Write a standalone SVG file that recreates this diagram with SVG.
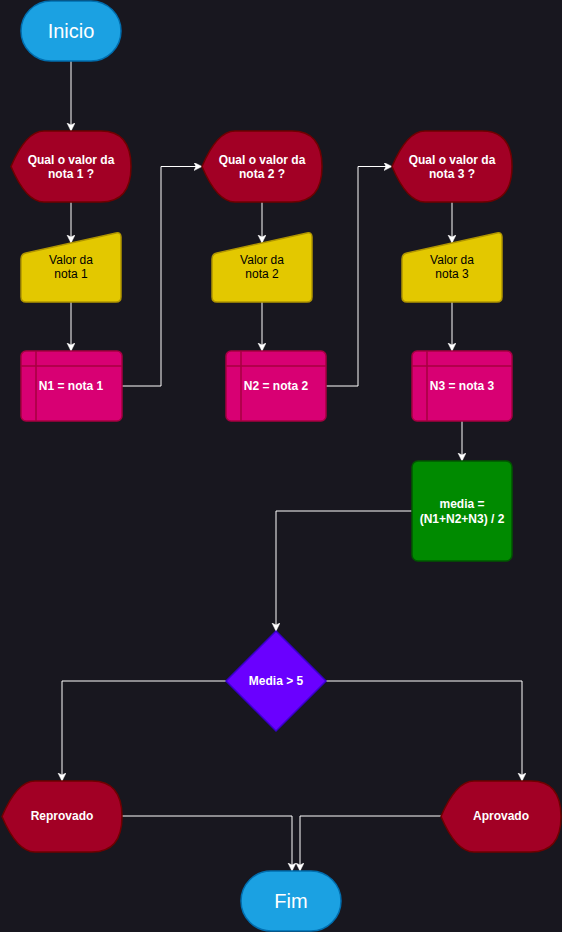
<svg xmlns="http://www.w3.org/2000/svg" width="562" height="932" viewBox="0 0 562 932">
<style>
.term{fill:#1ba1e2;stroke:#006eaf;stroke-width:1.5}
.disp{fill:#a20025;stroke:#6f0000;stroke-width:1.5}
.man{fill:#e3c800;stroke:#b09500;stroke-width:1.5}
.ist{fill:#d80073;stroke:#a50040;stroke-width:1.5}
.istl{fill:none;stroke:#a50040;stroke-width:1.5}
.proc{fill:#008a00;stroke:#005700;stroke-width:1.5}
.dec{fill:#6a00ff;stroke:#3700cc;stroke-width:1.5}
text{font-family:"Liberation Sans",Arial,sans-serif;text-anchor:middle}
.big{font-size:20px;fill:#ffffff}
.b{font-size:12px;font-weight:bold;fill:#ffffff}
.n{font-size:12px;fill:#000000}
.edge{fill:none;stroke:#ffffff;stroke-width:1}
</style>
<defs>
<marker id="arr" markerUnits="userSpaceOnUse" markerWidth="10" markerHeight="10" refX="8" refY="4" orient="auto">
<path d="M0,0 L8,4 L0,8 L2,4 Z" fill="#ffffff" stroke="#ffffff" stroke-width="0.5"/>
</marker>
</defs>
<rect x="0" y="0" width="562" height="932" fill="#18171f"/>

<g id="connectors">
<path class="edge" marker-end="url(#arr)" d="M71,61 L71,131"/>
<path class="edge" marker-end="url(#arr)" d="M71,202 L71,243"/>
<path class="edge" marker-end="url(#arr)" d="M71,302 L71,351"/>
<path class="edge" marker-end="url(#arr)" d="M122,386 L161,386 L161,166.5 L202,166.5"/>
<path class="edge" marker-end="url(#arr)" d="M262,202 L262,243"/>
<path class="edge" marker-end="url(#arr)" d="M262,302 L262,351"/>
<path class="edge" marker-end="url(#arr)" d="M326,386 L358,386 L358,166.5 L392,166.5"/>
<path class="edge" marker-end="url(#arr)" d="M452,202 L452,243"/>
<path class="edge" marker-end="url(#arr)" d="M452,302 L452,351"/>
<path class="edge" marker-end="url(#arr)" d="M462,421 L462,461"/>
<path class="edge" marker-end="url(#arr)" d="M412,511 L276,511 L276,631"/>
<path class="edge" marker-end="url(#arr)" d="M326,681 L522,681 L522,781"/>
<path class="edge" marker-end="url(#arr)" d="M226,681 L62,681 L62,781"/>
<path class="edge" marker-end="url(#arr)" d="M122,816 L292,816 L292,871"/>
<path class="edge" marker-end="url(#arr)" d="M441,816 L300,816 L300,871"/>
</g>

<g id="inicio">
<rect class="term" x="21" y="1" width="100" height="60" rx="30"/>
<text class="big" x="71" y="38">Inicio</text>
</g>

<g id="pergunta1">
<path class="disp" d="M11,166.5 Q26,131 44,131 L101,131 Q131,131 131,166.5 Q131,202 101,202 L44,202 Q26,202 11,166.5 Z"/>
<text class="b" x="71" y="163.5">Qual o valor da</text>
<text class="b" x="71" y="178">nota 1 ?</text>
</g>
<g id="entrada1">
<path class="man" d="M21,259 Q21,254 26,253 L116,233 Q121,232 121,237 L121,297 Q121,302 116,302 L26,302 Q21,302 21,297 Z"/>
<text class="n" x="71" y="263.5">Valor da</text>
<text class="n" x="71" y="278">nota 1</text>
</g>
<g id="n1">
<rect class="ist" x="21" y="351" width="101" height="70" rx="5"/>
<path class="istl" d="M36,351 L36,421 M21,366 L122,366"/>
<text class="b" x="71" y="390">N1 = nota 1</text>
</g>

<g id="pergunta2">
<path class="disp" d="M202,166.5 Q217,131 235,131 L292,131 Q322,131 322,166.5 Q322,202 292,202 L235,202 Q217,202 202,166.5 Z"/>
<text class="b" x="262" y="163.5">Qual o valor da</text>
<text class="b" x="262" y="178">nota 2 ?</text>
</g>
<g id="entrada2">
<path class="man" d="M212,259 Q212,254 217,253 L307,233 Q312,232 312,237 L312,297 Q312,302 307,302 L217,302 Q212,302 212,297 Z"/>
<text class="n" x="262" y="263.5">Valor da</text>
<text class="n" x="262" y="278">nota 2</text>
</g>
<g id="n2">
<rect class="ist" x="226" y="351" width="100" height="70" rx="5"/>
<path class="istl" d="M241,351 L241,421 M226,366 L326,366"/>
<text class="b" x="276" y="390">N2 = nota 2</text>
</g>

<g id="pergunta3">
<path class="disp" d="M392,166.5 Q407,131 425,131 L482,131 Q512,131 512,166.5 Q512,202 482,202 L425,202 Q407,202 392,166.5 Z"/>
<text class="b" x="452" y="163.5">Qual o valor da</text>
<text class="b" x="452" y="178">nota 3 ?</text>
</g>
<g id="entrada3">
<path class="man" d="M402,259 Q402,254 407,253 L497,233 Q502,232 502,237 L502,297 Q502,302 497,302 L407,302 Q402,302 402,297 Z"/>
<text class="n" x="452" y="263.5">Valor da</text>
<text class="n" x="452" y="278">nota 3</text>
</g>
<g id="n3">
<rect class="ist" x="412" y="351" width="100" height="70" rx="5"/>
<path class="istl" d="M427,351 L427,421 M412,366 L512,366"/>
<text class="b" x="462" y="390">N3 = nota 3</text>
</g>

<g id="media">
<rect class="proc" x="412" y="461" width="100" height="100" rx="6"/>
<text class="b" x="462" y="508">media =</text>
<text class="b" x="462" y="522.5">(N1+N2+N3) / 2</text>
</g>

<g id="decisao">
<path class="dec" d="M276,631 L326,681 L276,731 L226,681 Z"/>
<text class="b" x="276" y="685">Media &gt; 5</text>
</g>

<g id="reprovado">
<path class="disp" d="M2,816.5 Q17,781 35,781 L92,781 Q122,781 122,816.5 Q122,852 92,852 L35,852 Q17,852 2,816.5 Z"/>
<text class="b" x="62" y="820">Reprovado</text>
</g>

<g id="aprovado">
<path class="disp" d="M441,816.5 Q456,781 474,781 L531,781 Q561,781 561,816.5 Q561,852 531,852 L474,852 Q456,852 441,816.5 Z"/>
<text class="b" x="501" y="820">Aprovado</text>
</g>

<g id="fim">
<rect class="term" x="241" y="871" width="100" height="60" rx="30"/>
<text class="big" x="291" y="908">Fim</text>
</g>
</svg>
